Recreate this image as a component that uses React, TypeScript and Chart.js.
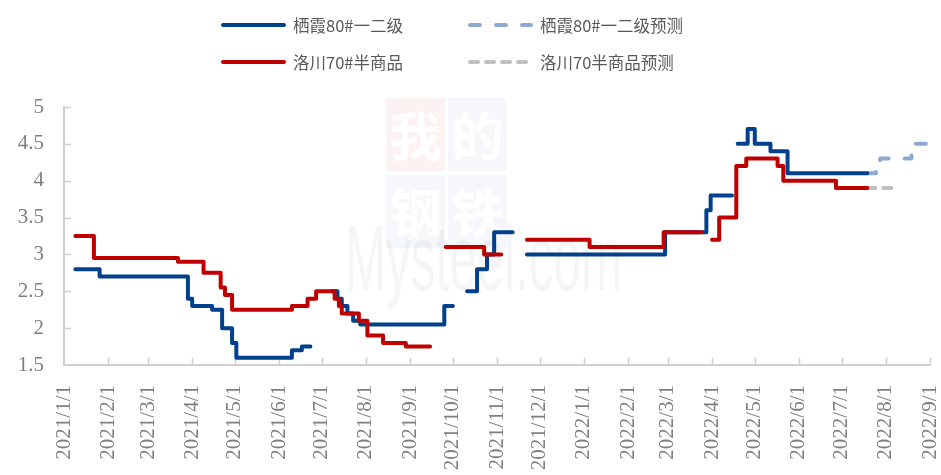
import React, { useEffect, useRef } from 'react';
import { Chart, registerables } from 'chart.js';

Chart.register(...registerables);

// ---------- data ----------
const seriesNames = ['栖霞80#一二级', '栖霞80#一二级预测', '洛川70#半商品', '洛川70半商品预测'];

const tickDates = [
  '2021-01-01', '2021-02-01', '2021-03-01', '2021-04-01', '2021-05-01', '2021-06-01', '2021-07-01',
  '2021-08-01', '2021-09-01', '2021-10-01', '2021-11-01', '2021-12-01', '2022-01-01', '2022-02-01',
  '2022-03-01', '2022-04-01', '2022-05-01', '2022-06-01', '2022-07-01', '2022-08-01', '2022-09-01',
];
const tickLabels = [
  '2021/1/1', '2021/2/1', '2021/3/1', '2021/4/1', '2021/5/1', '2021/6/1', '2021/7/1',
  '2021/8/1', '2021/9/1', '2021/10/1', '2021/11/1', '2021/12/1', '2022/1/1', '2022/2/1',
  '2022/3/1', '2022/4/1', '2022/5/1', '2022/6/1', '2022/7/1', '2022/8/1', '2022/9/1',
];
const yTicks = [1.5, 2, 2.5, 3, 3.5, 4, 4.5, 5];

// 栖霞80#一二级 (null = gap in data)
const qixiaDates = [
  '2021-01-09', '2021-01-26', '2021-03-29', '2021-04-01', '2021-04-15', '2021-04-22', '2021-04-29',
  '2021-05-02', '2021-06-10', '2021-06-17', '2021-06-23', '2021-06-30',
  '2021-07-08', '2021-07-12', '2021-07-15', '2021-07-19', '2021-07-23', '2021-07-28', '2021-09-25',
  '2021-10-01', '2021-10-05',
  '2021-10-11', '2021-10-18', '2021-10-25', '2021-10-30', '2021-11-12', '2021-11-17',
  '2021-11-22', '2022-02-27', '2022-03-28', '2022-03-31', '2022-04-15', '2022-04-17',
  '2022-04-19', '2022-04-26', '2022-05-01', '2022-05-12', '2022-05-24', '2022-07-19',
];
const qixiaValues = [
  2.8, 2.7, 2.4, 2.3, 2.25, 2.0, 1.8,
  1.6, 1.7, 1.75, 1.75, null,
  2.5, 2.4, 2.3, 2.2, 2.1, 2.05, 2.3,
  2.3, null,
  2.5, 2.8, 3.0, 3.3, 3.3, null,
  3.0, 3.3, 3.6, 3.8, 3.8, null,
  4.5, 4.7, 4.5, 4.4, 4.1, 4.1,
];

// 栖霞80#一二级预测
const qixiaFcDates = ['2022-07-19', '2022-07-25', '2022-07-28', '2022-08-19', '2022-09-01'];
const qixiaFcValues = [4.1, 4.2, 4.3, 4.5, 4.5];

// 洛川70#半商品
const luochuanDates = [
  '2021-01-09', '2021-01-22', '2021-03-22', '2021-04-09', '2021-04-21', '2021-04-24', '2021-04-29',
  '2021-06-10', '2021-06-21', '2021-06-27', '2021-07-10', '2021-07-13', '2021-07-15', '2021-07-27',
  '2021-08-02', '2021-08-13', '2021-08-29', '2021-09-15', '2021-09-20',
  '2021-09-26', '2021-10-23', '2021-11-04', '2021-11-10',
  '2021-11-22', '2022-01-05', '2022-02-26', '2022-03-25', '2022-03-28',
  '2022-04-01', '2022-04-06', '2022-04-18', '2022-04-25', '2022-05-17', '2022-05-21', '2022-06-27',
  '2022-07-19',
];
const luochuanValues = [
  3.25, 2.95, 2.9, 2.75, 2.55, 2.45, 2.25,
  2.3, 2.4, 2.5, 2.4, 2.3, 2.2, 2.1,
  1.9, 1.8, 1.75, 1.75, null,
  3.1, 3.0, 3.0, null,
  3.2, 3.1, 3.3, 3.3, null,
  3.2, 3.5, 4.2, 4.3, 4.2, 4.0, 3.9,
  3.9,
];

// 洛川70半商品预测
const luochuanFcDates = ['2022-07-19', '2022-08-07'];
const luochuanFcValues = [3.9, 3.9];

// ---------- styles ----------
const COLOR_BLUE = '#00408c';
const COLOR_BLUE_FC = '#8faad2';
const COLOR_RED = '#c00000';
const COLOR_GREY_FC = '#bfbfbf';
const AXIS_COLOR = '#d0d0d0';
const TICK_TEXT = '#7f7f7f';
const DASH_BLUE = [10, 16];
const DASH_GREY = [8, 8];

const DAY0 = Date.UTC(2021, 0, 1);
const toDay = (s: string) => {
  const [y, m, d] = s.split('-').map(Number);
  return (Date.UTC(y, m - 1, d) - DAY0) / 86400000;
};
const toPoints = (dates: string[], values: (number | null)[]) =>
  dates.map((d, i) => ({ x: toDay(d), y: values[i] }));

const tickDays = tickDates.map(toDay);
const labelByDay: Record<number, string> = {};
tickDays.forEach((d, i) => (labelByDay[d] = tickLabels[i]));

const decorPlugin = {
  id: 'decor',
  beforeDatasetsDraw(chart: any) {
    const { ctx, chartArea, scales } = chart;
    ctx.save();
    // watermark
    const boxes = [
      { x: 386, y: 98, c: 'rgba(220,40,40,0.06)', t: '我' },
      { x: 448, y: 98, c: 'rgba(40,70,160,0.045)', t: '的' },
      { x: 386, y: 175, c: 'rgba(40,70,160,0.045)', t: '钢' },
      { x: 448, y: 175, c: 'rgba(40,70,160,0.045)', t: '铁' },
    ];
    boxes.forEach((b) => {
      ctx.fillStyle = b.c;
      ctx.fillRect(b.x, b.y, 59, 73);
      ctx.fillStyle = '#ffffff';
      ctx.font = 'bold 52px "Noto Sans CJK SC"';
      ctx.textAlign = 'center';
      ctx.textBaseline = 'middle';
      ctx.fillText(b.t, b.x + 29.5, b.y + 38);
    });
    ctx.font = '92px "Liberation Sans"';
    ctx.textAlign = 'left';
    ctx.textBaseline = 'alphabetic';
    const w = ctx.measureText('Mysteel.com').width;
    ctx.translate(345, 290);
    ctx.scale(277 / w, 1);
    ctx.fillStyle = 'rgba(0,0,0,0.04)';
    ctx.fillText('Mysteel.com', 0, 0);
    ctx.restore();

    // inward tick marks
    ctx.save();
    ctx.strokeStyle = AXIS_COLOR;
    ctx.lineWidth = 1.5;
    ctx.beginPath();
    tickDays.forEach((d, i) => {
      if (i === 0) return;
      const x = Math.round(scales.x.getPixelForValue(d)) + 0.5;
      ctx.moveTo(x, chartArea.bottom);
      ctx.lineTo(x, chartArea.bottom - 7);
    });
    yTicks.forEach((v, i) => {
      if (i === 0) return;
      const y = Math.round(scales.y.getPixelForValue(v)) + 0.5;
      ctx.moveTo(chartArea.left, y);
      ctx.lineTo(chartArea.left + 7, y);
    });
    ctx.stroke();
    ctx.restore();
  },
  afterDraw(chart: any) {
    const { ctx } = chart;
    const items = [
      { name: seriesNames[0], color: COLOR_BLUE, dash: [] as number[], x: 221, y: 25 },
      { name: seriesNames[1], color: COLOR_BLUE_FC, dash: DASH_BLUE, x: 468, y: 25 },
      { name: seriesNames[2], color: COLOR_RED, dash: [] as number[], x: 221, y: 62 },
      { name: seriesNames[3], color: COLOR_GREY_FC, dash: DASH_GREY, x: 468, y: 62 },
    ];
    ctx.save();
    items.forEach((it) => {
      ctx.strokeStyle = it.color;
      ctx.lineWidth = 4;
      ctx.lineCap = 'round';
      ctx.setLineDash(it.dash);
      ctx.beginPath();
      ctx.moveTo(it.x + 2, it.y);
      ctx.lineTo(it.x + 63, it.y);
      ctx.stroke();
      ctx.setLineDash([]);
      ctx.fillStyle = '#595959';
      ctx.font = '16.5px "Noto Sans CJK SC"';
      ctx.textAlign = 'left';
      ctx.textBaseline = 'middle';
      ctx.fillText(it.name, it.x + 72, it.y + 1);
    });
    ctx.restore();
  },
};

export default function App() {
  const ref = useRef<HTMLCanvasElement>(null);
  useEffect(() => {
    document.body.style.margin = '0';
    const canvas = ref.current;
    if (!canvas) return;
    const tickFont = { family: '"Liberation Serif", "Times New Roman", serif', size: 21 };
    const chart = new Chart(canvas, {
      type: 'line',
      data: {
        datasets: [
          {
            label: seriesNames[2],
            data: toPoints(luochuanDates, luochuanValues),
            borderColor: COLOR_RED,
            stepped: true,
          },
          {
            label: seriesNames[0],
            data: toPoints(qixiaDates, qixiaValues),
            borderColor: COLOR_BLUE,
            stepped: true,
          },
          {
            label: seriesNames[1],
            data: toPoints(qixiaFcDates, qixiaFcValues),
            borderColor: COLOR_BLUE_FC,
            borderDash: DASH_BLUE,
            stepped: true,
          },
          {
            label: seriesNames[3],
            data: toPoints(luochuanFcDates, luochuanFcValues),
            borderColor: COLOR_GREY_FC,
            borderDash: DASH_GREY,
            stepped: true,
          },
        ] as any,
      },
      options: {
        responsive: false,
        animation: false,
        events: [],
        layout: { padding: { top: 107, right: 11, left: 0, bottom: 0 } },
        elements: {
          point: { radius: 0 },
          line: { borderWidth: 4, borderCapStyle: 'round', borderJoinStyle: 'round', fill: false },
        },
        plugins: { legend: { display: false }, tooltip: { enabled: false } },
        scales: {
          x: {
            type: 'linear',
            min: 0,
            max: tickDays[tickDays.length - 1],
            afterBuildTicks: (s: any) => {
              s.ticks = tickDays.map((v) => ({ value: v }));
            },
            afterFit: (s: any) => {
              s.height = 110;
              s.paddingLeft = 0;
              s.paddingRight = 0;
            },
            grid: { display: false, drawTicks: false },
            border: { display: true, color: AXIS_COLOR, width: 2 },
            ticks: {
              autoSkip: false,
              maxRotation: 90,
              minRotation: 90,
              padding: 20,
              color: TICK_TEXT,
              font: tickFont,
              callback: (v: any) => labelByDay[v] ?? '',
            },
          },
          y: {
            min: 1.5,
            max: 5,
            afterFit: (s: any) => {
              s.width = 64;
              s.paddingTop = 0;
              s.paddingBottom = 0;
            },
            afterBuildTicks: (s: any) => {
              s.ticks = yTicks.map((v) => ({ value: v }));
            },
            grid: { display: false, drawTicks: false },
            border: { display: true, color: AXIS_COLOR, width: 2 },
            ticks: {
              padding: 20,
              color: TICK_TEXT,
              font: tickFont,
              callback: (v: any) => String(v),
            },
          },
        },
      } as any,
      plugins: [decorPlugin],
    });
    return () => chart.destroy();
  }, []);
  return (
    <div style={{ width: 941, height: 475 }}>
      <canvas ref={ref} width={941} height={475} style={{ display: 'block' }} />
    </div>
  );
}
